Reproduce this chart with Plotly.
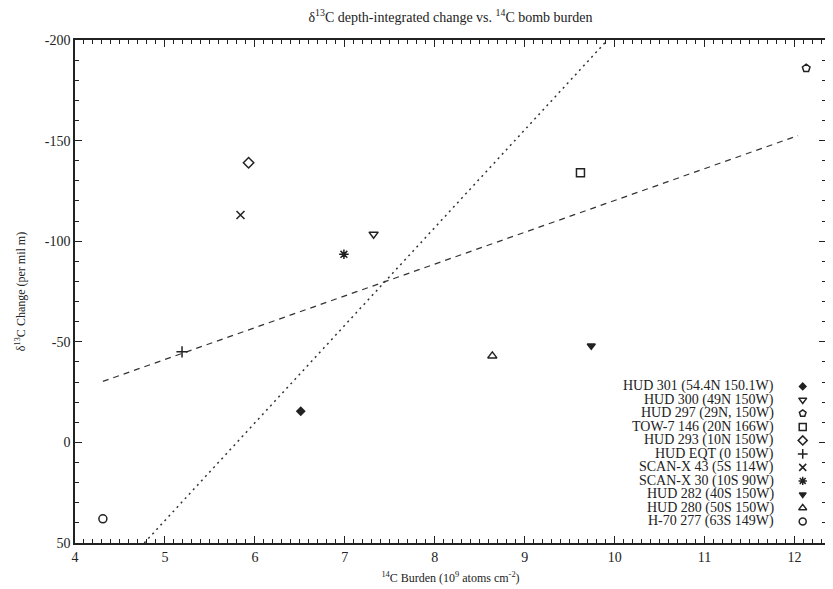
import plotly.graph_objects as go

# ---- data ----
stations = ["HUD 301 (54.4N 150.1W)", "HUD 300 (49N 150W)", "HUD 297 (29N, 150W)",
            "TOW-7 146 (20N 166W)", "HUD 293 (10N 150W)", "HUD EQT (0 150W)",
            "SCAN-X 43 (5S 114W)", "SCAN-X 30 (10S 90W)", "HUD 282 (40S 150W)",
            "HUD 280 (50S 150W)", "H-70 277 (63S 149W)"]
burden = [6.51, 7.32, 12.13, 9.62, 5.93, 5.19, 5.84, 6.99, 9.74, 8.64, 4.31]
d13c = [-15.5, -103.5, -186, -134, -139, -45, -113, -93.5, -48, -43, 38]
symbols = ["diamond", "triangle-down-open", "pentagon-open", "square-open", "diamond-open",
           "cross-thin-open", "x-thin-open", "asterisk-open", "triangle-down",
           "triangle-up-open", "circle-open"]
sizes = [6, 8, 8, 8, 8, 8, 8, 8, 7, 8, 8]

# fit lines (endpoints)
fit1_x = [4.31, 12.04]
fit1_y = [-30.3, -152.5]
fit2_x = [4.77, 9.92]
fit2_y = [50, -200]

xticks = [4, 5, 6, 7, 8, 9, 10, 11, 12]
yticks = [-200, -150, -100, -50, 0, 50]
ytick_text = ["-200", "-150", "-100", "-50", "0", "50"]

FONT = "Liberation Serif"
INK = "#222222"

# the page body has an 8px margin, so the figure is drawn 8px smaller
W, H = 825, 581

fig = go.Figure()

fig.add_trace(go.Scatter(x=fit1_x, y=fit1_y, mode="lines",
                         line=dict(color="#333333", width=1.2, dash="6px,5px"),
                         showlegend=False, hoverinfo="skip"))
fig.add_trace(go.Scatter(x=fit2_x, y=fit2_y, mode="lines",
                         line=dict(color="#333333", width=1.5, dash="2px,4px"),
                         showlegend=False, hoverinfo="skip"))

for i, name in enumerate(stations):
    fig.add_trace(go.Scatter(x=[burden[i]], y=[d13c[i]], mode="markers", name=name,
                             marker=dict(symbol=symbols[i], size=sizes[i], color=INK,
                                         line=dict(color=INK, width=1.5)),
                             showlegend=False))

# custom legend: text right-aligned, symbol on the right
rows = list(range(len(stations)))
for i, name in enumerate(stations):
    fig.add_trace(go.Scatter(x=[0.969], y=[rows[i]], xaxis="x2", yaxis="y2", mode="markers",
                             marker=dict(symbol=symbols[i], size=sizes[i] - 1, color=INK,
                                         line=dict(color=INK, width=1.5)),
                             showlegend=False, hoverinfo="skip"))
    fig.add_annotation(x=0.933, y=rows[i], xref="x2", yref="y2", text=name,
                       showarrow=False, xanchor="right", yanchor="middle",
                       font=dict(family=FONT, size=14, color=INK))

axis_common = dict(showgrid=False, zeroline=False, showline=True, linecolor=INK, linewidth=1.5,
                   ticks="inside", ticklen=7, tickwidth=1.2, tickcolor=INK, mirror="ticks",
                   automargin=False,
                   tickfont=dict(family=FONT, size=14, color=INK))

fig.update_layout(
    width=W, height=H,
    margin=dict(l=67, r=7, t=32, b=46),
    paper_bgcolor="white", plot_bgcolor="white",
    title=dict(text="δ<sup>13</sup>C depth-integrated change vs. <sup>14</sup>C bomb burden",
               x=(67 + 818) / 2 / W, xanchor="center", y=1 - 9 / H, yanchor="middle",
               font=dict(family=FONT, size=14, color=INK), automargin=False),
    xaxis=dict(range=[4, 12.35], tickvals=xticks, **axis_common,
               minor=dict(ticks="inside", ticklen=4, dtick=0.1, tick0=4, tickcolor=INK, tickwidth=1),
               title=dict(text="<sup>14</sup>C Burden (10<sup>9</sup> atoms cm<sup>-2</sup>)",
                          font=dict(family=FONT, size=12, color=INK), standoff=10)),
    yaxis=dict(range=[50, -200], tickvals=yticks, ticktext=ytick_text, **axis_common,
               minor=dict(ticks="inside", ticklen=4, dtick=10, tick0=0, tickcolor=INK, tickwidth=1),
               title=dict(text="δ<sup>13</sup>C Change (per mil m)",
                          font=dict(family=FONT, size=12, color=INK), standoff=17)),
    xaxis2=dict(range=[0, 1], overlaying="x", visible=False, fixedrange=True),
    yaxis2=dict(range=[11.6, -25.66], overlaying="y", visible=False, fixedrange=True),
    showlegend=False,
)

fig.write_html("out.html")
